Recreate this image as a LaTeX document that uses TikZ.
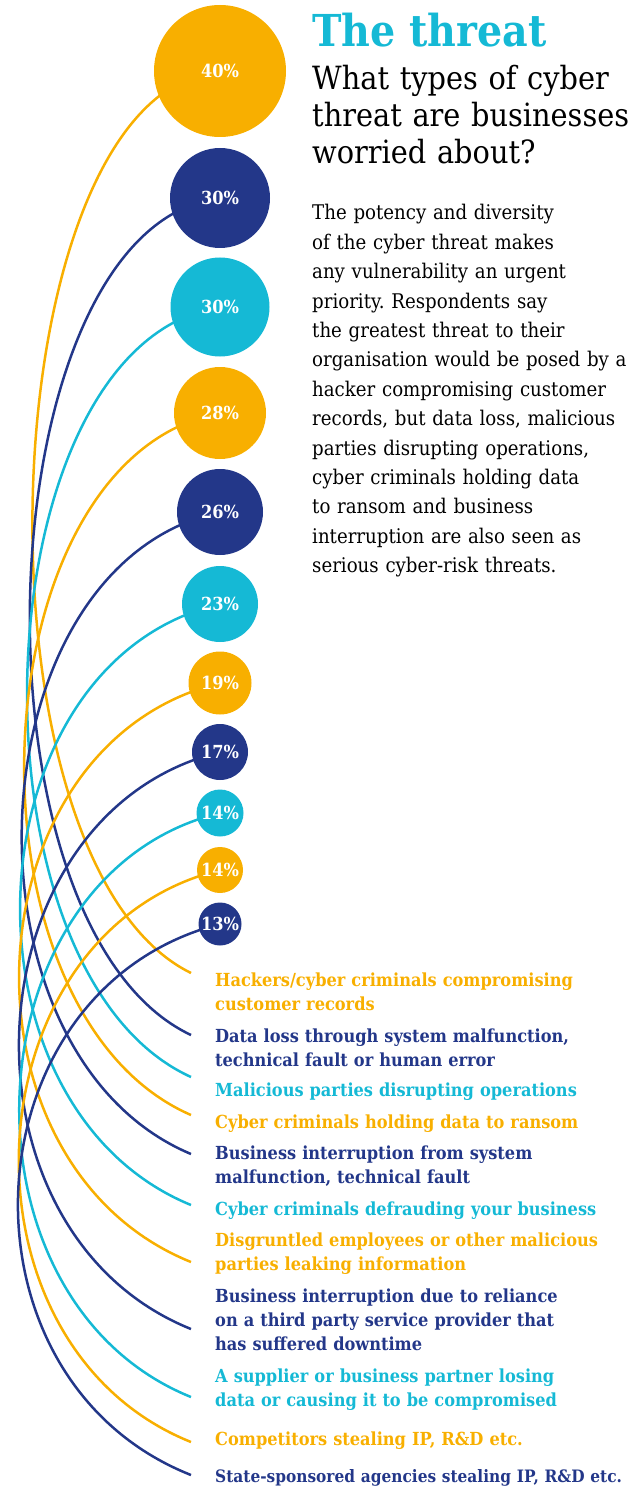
\documentclass[tikz,border=0pt]{standalone}
\usepackage{fontspec}
\setmainfont{DejaVu Serif}[FakeStretch=0.9]
\usetikzlibrary{backgrounds}
\definecolor{gold}{HTML}{F8AF00}
\definecolor{navy}{HTML}{233789}
\definecolor{sky}{HTML}{15B9D5}
\frenchspacing
\begin{document}
\begin{tikzpicture}[x=1pt, y=-1pt,
  bubble/.style={circle, inner sep=0pt, text=white, font=\bfseries\fontsize{18}{18}\selectfont},
  link/.style={line width=2.5pt},
  answer/.style={anchor=base west, inner sep=0pt, text width=415pt, align=left,
    font=\bfseries\fontsize{18}{24}\selectfont}]
\useasboundingbox (0,0) rectangle (631,1487);

% heading and intro
\node[anchor=base west, inner sep=0pt, text=sky, font=\bfseries\fontsize{44}{44}\selectfont] (title) at (312,47) {The threat};
\node[anchor=base west, inner sep=0pt, text width=318pt, align=left, font=\fontsize{32}{36.7}\selectfont] (question) at (312,90)
  {What types of cyber\\threat are businesses\\worried about?};
\node[anchor=base west, inner sep=0pt, text width=318pt, align=left, font=\fontsize{20.2}{29.4}\selectfont] (intro) at (312,220)
  {The potency and diversity\\of the cyber threat makes\\any vulnerability an urgent\\priority. Respondents say\\the greatest threat to their\\organisation would be posed by a\\hacker compromising customer\\records, but data loss, malicious\\parties disrupting operations,\\cyber criminals holding data\\to ransom and business\\interruption are also seen as\\serious cyber-risk threats.};

% bubbles
\foreach \i/\y/\r/\pct/\col in {1/71/66/40/gold, 2/198/50/30/navy, 3/307/49.5/30/sky, 4/413/46/28/gold,
                                5/512/43/26/navy, 6/604/38/23/sky, 7/683/31.5/19/gold, 8/752/28/17/navy,
                                9/813/23.5/14/sky, 10/870/23/14/gold, 11/924/21.5/13/navy}
  \node[bubble, fill=\col, minimum size=2*\r] (c\i) at (220,\y) {\pct\%};

% answers
\node[answer, text=gold] (a1) at (215,986) {Hackers/cyber criminals compromising\\customer records};
\node[answer, text=navy] (a2) at (215,1042) {Data loss through system malfunction,\\technical fault or human error};
\node[answer, text=sky] (a3) at (215,1096) {Malicious parties disrupting operations};
\node[answer, text=gold] (a4) at (215,1128) {Cyber criminals holding data to ransom};
\node[answer, text=navy] (a5) at (215,1159) {Business interruption from system\\malfunction, technical fault};
\node[answer, text=sky] (a6) at (215,1215) {Cyber criminals defrauding your business};
\node[answer, text=gold] (a7) at (215,1246) {Disgruntled employees or other malicious\\parties leaking information};
\node[answer, text=navy] (a8) at (215,1302) {Business interruption due to reliance\\on a third party service provider that\\has suffered downtime};
\node[answer, text=sky] (a9) at (215,1382) {A supplier or business partner losing\\data or causing it to be compromised};
\node[answer, text=gold] (a10) at (215,1445) {Competitors stealing IP, R\&D etc.};
\node[answer, text=navy, font=\bfseries\fontsize{17.1}{24}\selectfont] (a11) at (215,1482) {State-sponsored agencies stealing IP, R\&D etc.};

% line ends
\foreach \i/\y in {1/973, 2/1035, 3/1077, 4/1115, 5/1154, 6/1205, 7/1262, 8/1329, 9/1397, 10/1442, 11/1475}
  \coordinate (e\i) at (191,\y);

% arcs
\begin{scope}[on background layer]
\foreach \i/\col/\f in {1/gold/0, 2/navy/.18, 3/sky/.37, 4/gold/.57, 5/navy/.74, 6/sky/.85,
                        7/gold/.92, 8/navy/.93, 9/sky/.91, 10/gold/.94, 11/navy/1}
  \draw[link, \col] (c\i.center) .. controls +({-232-22*\f},{20+45*\f}) and +({-228-17*\f},{-112+15*\f}) .. (e\i);
\end{scope}
\end{tikzpicture}
\end{document}
